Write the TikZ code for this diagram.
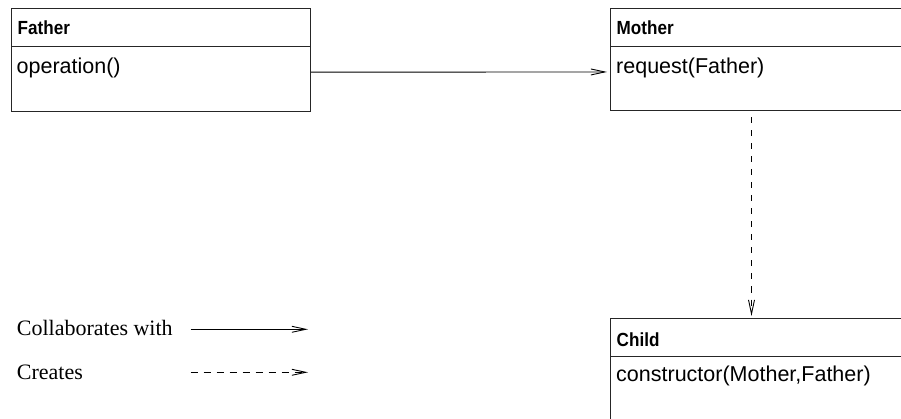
\documentclass[tikz,border=0pt]{standalone}
\usepackage{fontspec}
\setmainfont{Liberation Serif}
\newfontfamily\umlfont{Liberation Sans}
\newfontfamily\umlheadfont[FakeStretch=0.9]{Liberation Sans Bold}
\usetikzlibrary{arrows.meta}

\tikzset{
  classbox/.style={draw=black!85, line width=1pt, anchor=north west, inner sep=0pt},
  separator/.style={draw=black!85, line width=1pt},
  classname/.style={anchor=base west, inner sep=0pt, font=\umlheadfont\fontsize{19}{21}\selectfont},
  member/.style={anchor=base west, inner sep=0pt, font=\umlfont\fontsize{21.5}{24}\selectfont},
  legendtext/.style={anchor=base west, inner sep=0pt, font=\fontsize{22}{26}\selectfont},
  collab/.style={line width=0.9pt, -{Straight Barb[length=14pt, width=6pt]}},
  creates/.style={collab, dash pattern=on 6pt off 7pt},
}

\begin{document}
\begin{tikzpicture}[x=1pt, y=-1pt]
  \useasboundingbox (0,0) rectangle (901,419);
  \clip (0,0) rectangle (901,419);

  % Father class
  \node[classbox, minimum width=299pt, minimum height=103pt] (father) at (11,8) {};
  \draw[separator] (11,46.5) -- (310,46.5);
  \node[classname] (fathername) at (17.5,35) {Father};
  \node[member] (fatherop) at (16.5,73.3) {operation()};

  % Mother class (runs past the right edge)
  \node[classbox, minimum width=330pt, minimum height=102.5pt] (mother) at (610,8) {};
  \draw[separator] (610,46.5) -- (940,46.5);
  \node[classname] (mothername) at (616.5,35) {Mother};
  \node[member] (motherop) at (616,73.3) {request(Father)};

  % Child class (runs past the right and bottom edges)
  \node[classbox, minimum width=330pt, minimum height=130pt] (child) at (610,318) {};
  \draw[separator] (610,356) -- (940,356);
  \node[classname] (childname) at (616.5,346) {Child};
  \node[member] (childop) at (616,381.7) {constructor(Mother,Father)};

  % Relations
  \draw[collab, shorten >=3pt] ([yshift=-12.2pt]father.east) -- ([yshift=-12.2pt]mother.west);
  \draw[creates, dash phase=7pt, shorten >=2pt] ([xshift=-24pt]mother.south) -- ([xshift=-24pt]child.north);

  % Legend
  \node[legendtext] (lcollab) at (16.7,335.7) {Collaborates with};
  \node[legendtext] (lcreates) at (16.7,379) {Creates};
  \coordinate (lcs) at (190.7,329.3);
  \coordinate (lce) at (308,329.3);
  \coordinate (lrs) at (190.7,372.3);
  \coordinate (lre) at (308,372.3);
  \draw[collab] (lcs) -- (lce);
  \draw[creates, dash pattern=on 7pt off 6pt] (lrs) -- (lre);
\end{tikzpicture}
\end{document}
